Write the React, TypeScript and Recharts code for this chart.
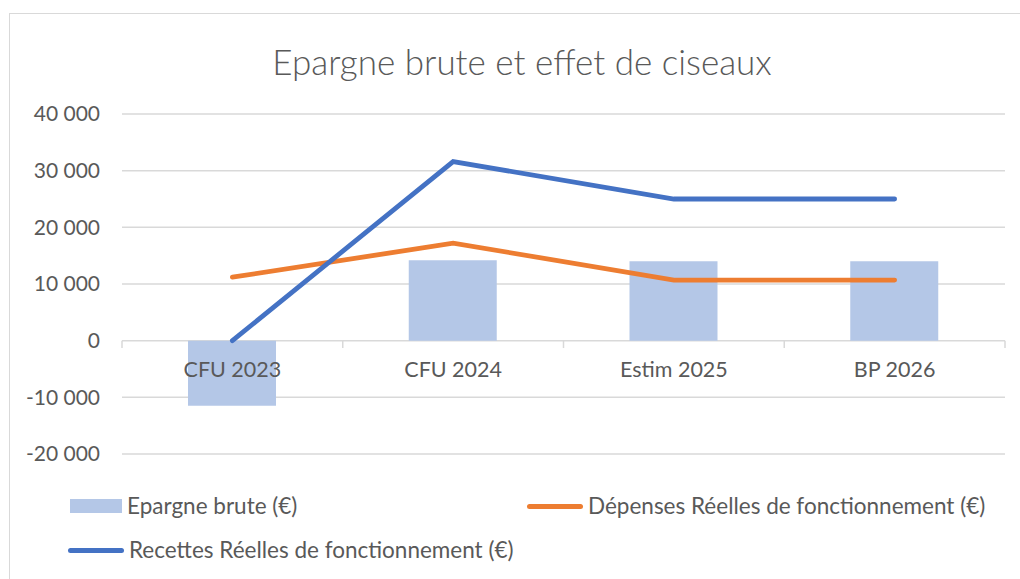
import React from 'react'
import {
  ComposedChart,
  Bar,
  Line,
  XAxis,
  YAxis,
  CartesianGrid,
  ReferenceLine,
} from 'recharts'

const categories = ['CFU 2023', 'CFU 2024', 'Estim 2025', 'BP 2026']
const epargneBrute = [-11500, 14200, 14000, 14000]
const depensesReelles = [11200, 17200, 10700, 10700]
const recettesReelles = [0, 31600, 25000, 25000]
const yTicks = [-20000, -10000, 0, 10000, 20000, 30000, 40000]

const seriesNames = {
  epargne: 'Epargne brute (€)',
  depenses: 'Dépenses Réelles de fonctionnement (€)',
  recettes: 'Recettes Réelles de fonctionnement (€)',
}

const FONT = 'Lato, "Open Sans", sans-serif'
const TEXT = '#595959'
const GRID = '#D9D9D9'
const BAR = '#B4C7E7'
const ORANGE = '#ED7D31'
const BLUE = '#4472C4'

const formatNumber = (v: number) => {
  const s = String(Math.abs(v)).replace(/\B(?=(\d{3})+(?!\d))/g, ' ')
  return v < 0 ? '-' + s : s
}

function CategoryTick({ x, y, payload }: any) {
  return (
    <text x={x} y={y} dy={-77} textAnchor="middle" fill={TEXT} fontSize={21.5} fontFamily={FONT}>
      {payload.value}
    </text>
  )
}

// tick marks on the zero line, at the start of each category and the end of the last one
const boundaryMarks = [
  ...categories.map(c => ({ cat: c, position: 'start' as const })),
  { cat: categories[categories.length - 1], position: 'end' as const },
]

export default function App() {
  const data = categories.map((c, i) => ({
    name: c,
    epargne: epargneBrute[i],
    depenses: depensesReelles[i],
    recettes: recettesReelles[i],
  }))

  const legendRow = { position: 'absolute' as const, display: 'flex', alignItems: 'center', fontSize: 22.5, color: TEXT, lineHeight: '28px', whiteSpace: 'nowrap' as const }

  return (
    <div style={{ position: 'absolute', left: 0, top: 0, width: 1020, height: 579, background: '#fff', fontFamily: FONT }}>
      {/* chart frame */}
      <div style={{ position: 'absolute', left: 9, top: 13, width: 1011, height: 566, borderLeft: `1px solid ${GRID}`, borderTop: `1px solid ${GRID}` }} />

      <div style={{ position: 'absolute', left: 0, top: 38, width: 1044, textAlign: 'center', fontSize: 35, fontWeight: 300, color: TEXT, lineHeight: '46px' }}>
        Epargne brute et effet de ciseaux
      </div>

      <div style={{ position: 'absolute', left: 0, top: 0 }}>
        <ComposedChart width={1020} height={579} data={data} margin={{ top: 114, right: 15, bottom: 95, left: 0 }}>
          <CartesianGrid vertical={false} stroke={GRID} strokeWidth={1.5} />
          <YAxis
            width={122}
            domain={[-20000, 40000]}
            ticks={yTicks}
            tickFormatter={formatNumber}
            axisLine={false}
            tickLine={false}
            tickMargin={16}
            tick={{ fill: TEXT, fontSize: 21, fontFamily: FONT }}
          />
          {boundaryMarks.map((m, i) => (
            <ReferenceLine
              key={i}
              segment={[{ x: m.cat, y: 0 }, { x: m.cat, y: -1300 }]}
              position={m.position}
              stroke={GRID}
              strokeWidth={1.5}
            />
          ))}
          <Bar dataKey="epargne" name={seriesNames.epargne} fill={BAR} barSize={88} isAnimationActive={false} />
          <Line
            dataKey="depenses"
            name={seriesNames.depenses}
            type="linear"
            stroke={ORANGE}
            strokeWidth={4.8}
            strokeLinecap="round"
            dot={false}
            activeDot={false}
            isAnimationActive={false}
          />
          <Line
            dataKey="recettes"
            name={seriesNames.recettes}
            type="linear"
            stroke={BLUE}
            strokeWidth={4.8}
            strokeLinecap="round"
            dot={false}
            activeDot={false}
            isAnimationActive={false}
          />
          <XAxis
            dataKey="name"
            axisLine={false}
            tickLine={false}
            tickSize={0}
            tickMargin={0}
            height={30}
            tick={<CategoryTick />}
            interval={0}
          />
        </ComposedChart>
      </div>

      {/* legend */}
      <div style={{ ...legendRow, left: 70, top: 492 }}>
        <span style={{ display: 'inline-block', width: 52, height: 14, background: BAR, marginRight: 5 }} />
        {seriesNames.epargne}
      </div>
      <div style={{ ...legendRow, left: 527, top: 492 }}>
        <span style={{ display: 'inline-block', width: 56, height: 5, borderRadius: 3, background: ORANGE, marginRight: 5 }} />
        {seriesNames.depenses}
      </div>
      <div style={{ ...legendRow, left: 68, top: 536 }}>
        <span style={{ display: 'inline-block', width: 56, height: 5, borderRadius: 3, background: BLUE, marginRight: 5 }} />
        {seriesNames.recettes}
      </div>
    </div>
  )
}
